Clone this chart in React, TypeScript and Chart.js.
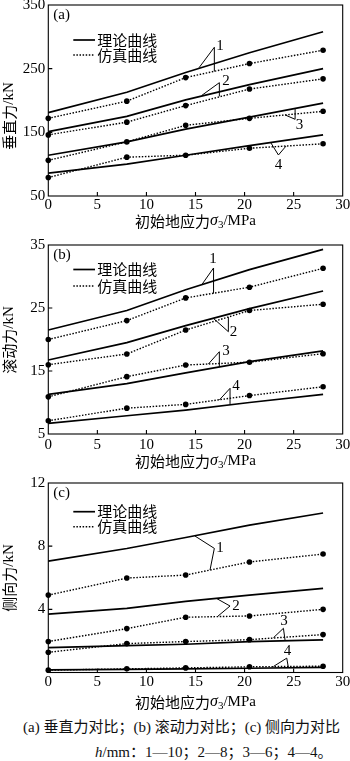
import React, { useEffect, useRef } from 'react';
import { Chart, registerables } from 'chart.js';

Chart.register(...registerables);

// ---------- data ----------
const stress = [0, 8, 14, 20.5, 28]; // 初始地应力 σ3 / MPa
const xTickValues = [0, 5, 10, 15, 20, 25, 30];

// (a) 垂直力 / kN
const vertTheory1 = [181, 213, 244, 275, 308];
const vertTheory2 = [151, 175, 201, 225, 250];
const vertTheory3 = [114, 135, 155, 174, 196];
const vertTheory4 = [86, 100, 114, 129, 146];
const vertSim1 = [172, 199, 236, 258, 279];
const vertSim2 = [146, 166, 192, 218, 234];
const vertSim3 = [106, 135, 161, 172, 183];
const vertSim4 = [79, 111, 114, 125, 132];

// (b) 滚动力 / kN
const rollTheory1 = [21.5, 24.6, 27.9, 31.1, 34.3];
const rollTheory2 = [16.75, 19.5, 22.2, 24.9, 27.7];
const rollTheory3 = [11.3, 13.0, 14.7, 16.5, 18.2];
const rollTheory4 = [6.7, 7.9, 8.8, 10.0, 11.3];
const rollSim1 = [20.0, 23.0, 26.6, 28.3, 31.3];
const rollSim2 = [16.0, 17.7, 21.5, 24.6, 25.6];
const rollSim3 = [10.9, 14.1, 15.95, 16.4, 17.75];
const rollSim4 = [7.1, 9.1, 9.7, 11.1, 12.5];

// (c) 侧向力 / kN
const sideTheory1 = [7.05, 7.85, 8.55, 9.33, 10.1];
const sideTheory2 = [3.7, 4.06, 4.5, 4.9, 5.33];
const sideTheory3 = [1.58, 1.7, 1.79, 1.96, 2.06];
const sideTheory4 = [0.17, 0.2, 0.23, 0.27, 0.32];
const sideSim1 = [4.9, 5.98, 6.17, 7.0, 7.5];
const sideSim2 = [1.96, 2.78, 3.5, 3.58, 4.0];
const sideSim3 = [1.28, 1.83, 1.96, 2.08, 2.4];
const sideSim4 = [0.15, 0.23, 0.29, 0.36, 0.4];

const legendTheory = '理论曲线';
const legendSim = '仿真曲线';

// leader-line callouts (data coordinates)
type Note = { label: string; vertex: number[]; ends: number[][]; text: number[] };
const notesA: Note[] = [
  { label: '1', vertex: [16.92, 283.6], ends: [[15.36, 251.5], [16.92, 245.5]], text: [17.5, 285.6] },
  { label: '2', vertex: [17.43, 228], ends: [[15.64, 208], [17.43, 206.5]], text: [18.11, 230.6] },
  { label: '3', vertex: [25.15, 170.5], ends: [[25.15, 186.5], [24.13, 177.3]], text: [25.6, 160.7] },
  { label: '4', vertex: [23.45, 114.4], ends: [[22.67, 133.7], [24.23, 128.5]], text: [23.45, 98.7] },
];
const notesB: Note[] = [
  { label: '1', vertex: [16.84, 31.35], ends: [[15.64, 28.7], [16.84, 27.3]], text: [16.79, 32.8] },
  { label: '2', vertex: [18.35, 21.24], ends: [[16.83, 23.35], [18.35, 23.55]], text: [18.88, 21.2] },
  { label: '3', vertex: [17.43, 18.06], ends: [[16.31, 16.1], [17.43, 15.7]], text: [18.11, 18.1] },
  { label: '4', vertex: [18.52, 12.25], ends: [[17.43, 10.4], [18.52, 9.7]], text: [19.13, 12.54] },
];
const notesC: Note[] = [
  { label: '1', vertex: [16.92, 7.86], ends: [[14.95, 8.64], [16.48, 6.49]], text: [17.5, 7.88] },
  { label: '2', vertex: [18.52, 4.21], ends: [[17.17, 4.68], [17.23, 3.54]], text: [19.13, 4.21] },
  { label: '3', vertex: [23.96, 2.8], ends: [[22.94, 2.2], [24.13, 2.02]], text: [24.03, 3.23] },
  { label: '4', vertex: [24.3, 0.91], ends: [[22.94, 0.38], [24.47, 0.29]], text: [24.38, 1.34] },
];

type Layout = {
  top: number; height: number; plotTop: number; plotBottom: number;
  tickPad: number; xTitleY: number; yTitleY: number; legend: number[];
};
type PanelDef = {
  tag: string; yTitle: string; yMin: number; yMax: number; yStep: number; hideZero: boolean;
  theory: number[][]; sim: number[][]; notes: Note[]; layout: Layout;
};

const panels: PanelDef[] = [
  {
    tag: '(a)', yTitle: '垂直力', yMin: 50, yMax: 350, yStep: 100, hideZero: false,
    theory: [vertTheory1, vertTheory2, vertTheory3, vertTheory4],
    sim: [vertSim1, vertSim2, vertSim3, vertSim4], notes: notesA,
    layout: { top: 0, height: 232, plotTop: 5, plotBottom: 196, tickPad: 0, xTitleY: 221, yTitleY: 116, legend: [35, 50] },
  },
  {
    tag: '(b)', yTitle: '滚动力', yMin: 5, yMax: 35, yStep: 10, hideZero: false,
    theory: [rollTheory1, rollTheory2, rollTheory3, rollTheory4],
    sim: [rollSim1, rollSim2, rollSim3, rollSim4], notes: notesB,
    layout: { top: 232, height: 238, plotTop: 245, plotBottom: 434, tickPad: 2, xTitleY: 461, yTitleY: 340, legend: [24.5, 41] },
  },
  {
    tag: '(c)', yTitle: '侧向力', yMin: 0, yMax: 12, yStep: 4, hideZero: true,
    theory: [sideTheory1, sideTheory2, sideTheory3, sideTheory4],
    sim: [sideSim1, sideSim2, sideSim3, sideSim4], notes: notesC,
    layout: { top: 470, height: 242, plotTop: 483, plotBottom: 672.5, tickPad: 1, xTitleY: 702, yTitleY: 578, legend: [28.7, 43.7] },
  },
];

const SERIF = '"Liberation Serif", "Times New Roman", serif';
const CJK = '"Noto Sans CJK SC", sans-serif';
const CANVAS_W = 350;
const PLOT_LEFT = 48.3;
const PLOT_RIGHT = 342.7;

type Seg = { t: string; font: string; dy?: number };
function drawSegs(ctx: CanvasRenderingContext2D, segs: Seg[], cx: number, cy: number) {
  let total = 0;
  const widths = segs.map((s) => {
    ctx.font = s.font;
    const w = ctx.measureText(s.t).width;
    total += w;
    return w;
  });
  let x = cx - total / 2;
  ctx.textAlign = 'left';
  ctx.textBaseline = 'middle';
  segs.forEach((s, i) => {
    ctx.font = s.font;
    ctx.fillText(s.t, x, cy + (s.dy || 0));
    x += widths[i];
  });
}

function makePlugin(p: PanelDef) {
  const L = p.layout;
  return {
    id: 'decor' + p.tag,
    afterDraw(chart: any) {
      const { ctx, chartArea: a, scales } = chart;
      const xs = scales.x;
      const ys = scales.y;
      ctx.save();
      ctx.fillStyle = '#000';
      ctx.strokeStyle = '#000';
      // frame
      ctx.lineWidth = 1.1;
      ctx.setLineDash([]);
      ctx.strokeRect(a.left, a.top, a.right - a.left, a.bottom - a.top);
      // inward ticks
      ctx.beginPath();
      xTickValues.forEach((v) => {
        if (v <= 0 || v >= 30) return;
        const px = xs.getPixelForValue(v);
        ctx.moveTo(px, a.bottom);
        ctx.lineTo(px, a.bottom - 4);
      });
      for (let v = p.yMin + p.yStep; v < p.yMax; v += p.yStep) {
        const py = ys.getPixelForValue(v);
        ctx.moveTo(a.left, py);
        ctx.lineTo(a.left + 4, py);
      }
      ctx.stroke();

      // panel tag
      ctx.font = `15px ${SERIF}`;
      ctx.textAlign = 'left';
      ctx.textBaseline = 'middle';
      ctx.fillText(p.tag, a.left + 5, a.top + 10);

      // legend
      const ly1 = a.top + L.legend[0];
      const ly2 = a.top + L.legend[1];
      ctx.lineWidth = 1.7;
      ctx.beginPath();
      ctx.moveTo(a.left + 25, ly1);
      ctx.lineTo(a.left + 46.7, ly1);
      ctx.stroke();
      ctx.lineWidth = 1.4;
      ctx.setLineDash([1.5, 1.6]);
      ctx.beginPath();
      ctx.moveTo(a.left + 25, ly2);
      ctx.lineTo(a.left + 46.7, ly2);
      ctx.stroke();
      ctx.setLineDash([]);
      ctx.font = `15px ${CJK}`;
      ctx.fillText(legendTheory, a.left + 49, ly1);
      ctx.fillText(legendSim, a.left + 49, ly2);

      // callouts
      ctx.lineWidth = 1;
      p.notes.forEach((n) => {
        const vx = xs.getPixelForValue(n.vertex[0]);
        const vy = ys.getPixelForValue(n.vertex[1]);
        ctx.beginPath();
        n.ends.forEach((e) => {
          ctx.moveTo(vx, vy);
          ctx.lineTo(xs.getPixelForValue(e[0]), ys.getPixelForValue(e[1]));
        });
        ctx.stroke();
        ctx.font = `15px ${SERIF}`;
        ctx.textAlign = 'center';
        ctx.textBaseline = 'middle';
        ctx.fillText(n.label, xs.getPixelForValue(n.text[0]), ys.getPixelForValue(n.text[1]));
      });

      // x title
      const cx = (a.left + a.right) / 2;
      drawSegs(ctx, [
        { t: '初始地应力', font: `15px ${CJK}` },
        { t: 'σ', font: `italic 16px ${SERIF}` },
        { t: '3', font: `11px ${SERIF}`, dy: 4 },
        { t: '/MPa', font: `15px ${SERIF}` },
      ], cx, L.xTitleY - L.top);

      // y title
      ctx.save();
      ctx.translate(9, L.yTitleY - L.top);
      ctx.rotate(-Math.PI / 2);
      drawSegs(ctx, [
        { t: p.yTitle, font: `15px ${CJK}` },
        { t: '/kN', font: `15px ${SERIF}` },
      ], 0, 0);
      ctx.restore();

      ctx.restore();
    },
  };
}

function buildConfig(p: PanelDef): any {
  const L = p.layout;
  const datasets: any[] = [];
  p.theory.forEach((arr) => {
    datasets.push({
      data: stress.map((x, i) => ({ x, y: arr[i] })),
      borderColor: '#000',
      borderWidth: 1.7,
      pointRadius: 0,
      fill: false,
      tension: 0,
      clip: false,
    });
  });
  p.sim.forEach((arr) => {
    datasets.push({
      data: stress.map((x, i) => ({ x, y: arr[i] })),
      borderColor: '#000',
      borderWidth: 1.4,
      borderDash: [1.5, 1.6],
      pointRadius: 2.8,
      pointBackgroundColor: '#000',
      pointBorderWidth: 0,
      fill: false,
      tension: 0,
      clip: false,
    });
  });
  return {
    type: 'line',
    data: { datasets },
    options: {
      animation: false,
      responsive: false,
      devicePixelRatio: 1,
      layout: { padding: { left: 0, right: CANVAS_W - PLOT_RIGHT, top: L.plotTop - L.top, bottom: 0 } },
      plugins: { legend: { display: false }, tooltip: { enabled: false }, title: { display: false } },
      scales: {
        x: {
          type: 'linear', min: 0, max: 30,
          ticks: { stepSize: 5, font: { family: SERIF, size: 15 }, color: '#000', padding: L.tickPad, maxRotation: 0, autoSkip: false },
          grid: { display: false, drawTicks: false },
          border: { display: false },
          afterFit: (s: any) => {
            s.height = L.height - (L.plotBottom - L.top);
            s.paddingLeft = 0;
            s.paddingRight = 0;
          },
        },
        y: {
          type: 'linear', min: p.yMin, max: p.yMax,
          ticks: {
            stepSize: p.yStep, font: { family: SERIF, size: 15 }, color: '#000', padding: 3,
            callback: (v: any) => (p.hideZero && Number(v) === 0 ? '' : String(v)),
          },
          grid: { display: false, drawTicks: false },
          border: { display: false },
          afterFit: (s: any) => {
            s.width = PLOT_LEFT;
            s.paddingTop = 0;
            s.paddingBottom = 0;
          },
        },
      },
    },
    plugins: [makePlugin(p)],
  };
}

function PanelChart({ p }: { p: PanelDef }) {
  const ref = useRef<HTMLCanvasElement>(null);
  useEffect(() => {
    const chart = new Chart(ref.current as HTMLCanvasElement, buildConfig(p));
    return () => chart.destroy();
  }, [p]);
  return (
    <canvas
      ref={ref}
      width={CANVAS_W}
      height={p.layout.height}
      style={{ position: 'absolute', left: 0, top: p.layout.top, width: CANVAS_W, height: p.layout.height }}
    />
  );
}

export default function App() {
  const capFont = `${SERIF.replace(', serif', '')}, "Noto Sans CJK SC", serif`;
  return (
    <div style={{ position: 'absolute', left: 0, top: 0, width: 350, height: 761, background: '#fff', overflow: 'hidden' }}>
      {panels.map((p) => (
        <PanelChart key={p.tag} p={p} />
      ))}
      <div style={{ position: 'absolute', left: 23, top: 718, fontFamily: capFont, fontSize: 15, lineHeight: '18px', whiteSpace: 'nowrap', color: '#111' }}>
        (a) 垂直力对比；(b) 滚动力对比；(c) 侧向力对比
      </div>
      <div style={{ position: 'absolute', left: 95, top: 743, fontFamily: capFont, fontSize: 15, lineHeight: '18px', whiteSpace: 'nowrap', color: '#111' }}>
        <i>h</i>/mm：1—10；2—8；3—6；4—4。
      </div>
    </div>
  );
}
